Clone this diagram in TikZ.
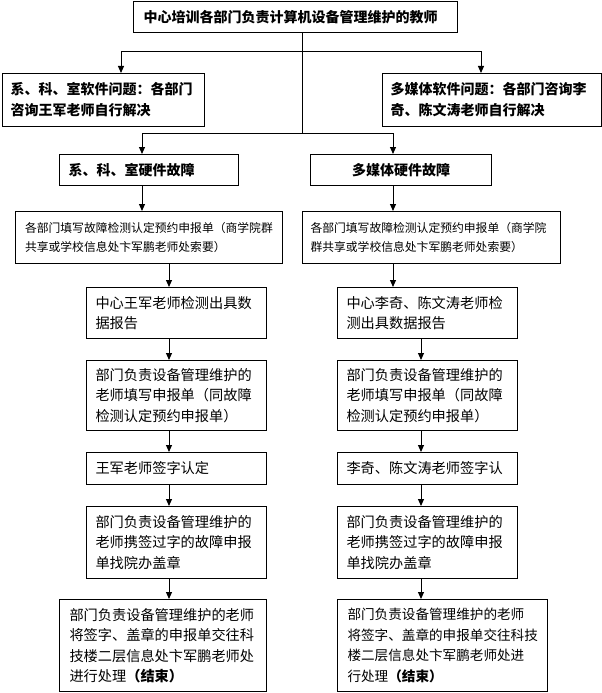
\documentclass[tikz,border=0pt]{standalone}
\usepackage{fontspec}
\setmainfont{Noto Sans CJK SC}
\usetikzlibrary{arrows.meta}
\begin{document}
\begin{tikzpicture}[x=1pt,y=-1pt,
  box/.style={draw, line width=1pt, anchor=north west, inner xsep=9pt, inner ysep=0pt, align=left,
    font=\fontsize{14.2}{20.5}\selectfont},
  hd/.style={box, font=\bfseries\fontsize{14}{21}\selectfont},
  fm/.style={box, font=\fontsize{11.8}{19}\selectfont},
  arr/.style={line width=1pt, -{Triangle[length=7pt,width=6pt]}},
  ln/.style={line width=1pt}]
\useasboundingbox (0,0) rectangle (602,693);

% top
\node[hd, minimum width=324pt, minimum height=31pt, inner xsep=10pt, text width=304pt] (top) at (133,1) {中心培训各部门负责计算机设备管理维护的教师};

% software boxes
\node[hd, minimum width=202pt, minimum height=53pt, inner xsep=8pt, text width=186pt] (swL) at (2,73) {系、科、室软件问题：各部门\\咨询王军老师自行解决};
\node[hd, minimum width=219pt, minimum height=53pt, inner xsep=8pt, text width=203pt] (swR) at (382,73) {多媒体软件问题：各部门咨询李\\奇、陈文涛老师自行解决};

% hardware boxes
\node[hd, minimum width=179pt, minimum height=31pt, inner xsep=9pt, text width=161pt] (hwL) at (59,154) {系、科、室硬件故障};
\node[hd, minimum width=181pt, minimum height=31pt, inner xsep=9pt, text width=163pt, align=center] (hwR) at (310,154) {多媒体硬件故障};

% form boxes
\node[fm, minimum width=267pt, minimum height=52pt, inner xsep=9.5pt, text width=248pt] (fmL) at (15,211) {各部门填写故障检测认定预约申报单（商学院群\\共享或学校信息处卞军鹏老师处索要）};
\node[fm, minimum width=258pt, minimum height=52pt, inner xsep=8pt, text width=242pt] (fmR) at (302,211) {各部门填写故障检测认定预约申报单（商学院\\群共享或学校信息处卞军鹏老师处索要）};

% left column
\node[box, minimum width=180pt, minimum height=51pt, text width=162pt] (L1) at (86,287) {中心王军老师检测出具数\\据报告};
\node[box, minimum width=180pt, minimum height=70pt, text width=162pt] (L2) at (86,360) {部门负责设备管理维护的\\老师填写申报单（同故障\\检测认定预约申报单）};
\node[box, minimum width=180pt, minimum height=32pt, text width=162pt] (L3) at (86,452) {王军老师签字认定};
\node[box, minimum width=180pt, minimum height=72pt, text width=162pt] (L4) at (86,506) {部门负责设备管理维护的\\老师携签过字的故障申报\\单找院办盖章};
\node[box, minimum width=207pt, minimum height=92pt, inner xsep=10pt, text width=187pt] (L5) at (59,599) {部门负责设备管理维护的老师\\将签字、盖章的申报单交往科\\技楼二层信息处卞军鹏老师处\\进行处理{\bfseries （结束）}};

% right column
\node[box, minimum width=180pt, minimum height=51pt, text width=162pt] (R1) at (337,287) {中心李奇、陈文涛老师检\\测出具数据报告};
\node[box, minimum width=180pt, minimum height=70pt, text width=162pt] (R2) at (337,360) {部门负责设备管理维护的\\老师填写申报单（同故障\\检测认定预约申报单）};
\node[box, minimum width=180pt, minimum height=32pt, text width=162pt] (R3) at (337,452) {李奇、陈文涛老师签字认};
\node[box, minimum width=180pt, minimum height=72pt, text width=162pt] (R4) at (337,506) {部门负责设备管理维护的\\老师携签过字的故障申报\\单找院办盖章};
\node[box, minimum width=210pt, minimum height=92pt, inner xsep=10pt, text width=190pt, font=\fontsize{13.6}{20.5}\selectfont] (R5) at (337,599) {部门负责设备管理维护的老师\\将签字、盖章的申报单交往科技\\楼二层信息处卞军鹏老师处进\\行处理{\bfseries （结束）}};

% connectors
\coordinate (sp1) at (302,52);
\coordinate (sp2) at (302,133);
\coordinate (aSL) at (121,52);
\coordinate (aSR) at (481,52);
\coordinate (aHL) at (142,133);
\coordinate (aHR) at (393,133);
\coordinate (cL) at (169,0);
\coordinate (cR) at (421,0);

\draw[ln] (top.south -| sp1) -- (sp2);
\draw[arr] (sp1) -- (aSL) -- (aSL |- swL.north);
\draw[arr] (sp1) -- (aSR) -- (aSR |- swR.north);
\draw[arr] (sp2) -- (aHL) -- (aHL |- hwL.north);
\draw[arr] (sp2) -- (aHR) -- (aHR |- hwR.north);
\draw[arr] (hwL.south -| aHL) -- (aHL |- fmL.north);
\draw[arr] (hwR.south -| aHR) -- (aHR |- fmR.north);

\draw[arr] (fmL.south -| cL) -- (cL |- L1.north);
\draw[arr] (L1.south -| cL) -- (cL |- L2.north);
\draw[arr] (L2.south -| cL) -- (cL |- L3.north);
\draw[arr] (L3.south -| cL) -- (cL |- L4.north);
\draw[arr] (L4.south -| cL) -- (cL |- L5.north);

\draw[arr] (fmR.south -| aHR) -- (aHR |- R1.north);
\draw[arr] (R1.south -| cR) -- (cR |- R2.north);
\draw[arr] (R2.south -| cR) -- (cR |- R3.north);
\draw[arr] (R3.south -| cR) -- (cR |- R4.north);
\draw[arr] (R4.south -| cR) -- (cR |- R5.north);
\end{tikzpicture}
\end{document}
